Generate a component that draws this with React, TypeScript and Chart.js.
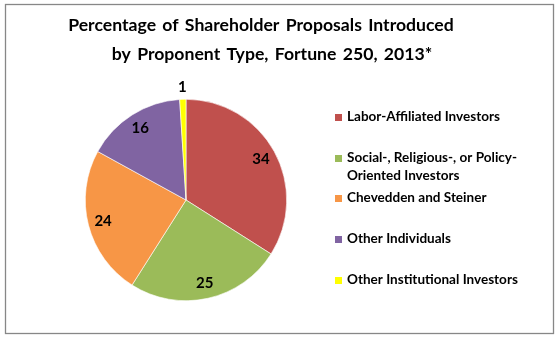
import React, { useEffect, useRef } from "react";
import { Chart, registerables } from "chart.js";

Chart.register(...registerables);

const TITLE_LINES = [
  "Percentage of Shareholder Proposals Introduced",
  "by Proponent Type, Fortune 250, 2013*",
];
const CATEGORIES = [
  "Labor-Affiliated Investors",
  "Social-, Religious-, or Policy-Oriented Investors",
  "Chevedden and Steiner",
  "Other Individuals",
  "Other Institutional Investors",
];
const VALUES = [34, 25, 24, 16, 1];
const COLORS = ["#C0504D", "#9BBB59", "#F79646", "#8064A2", "#FFFF00"];

const FAMILY = "Lato, 'Open Sans', sans-serif";

function fitSize(ctx: CanvasRenderingContext2D, text: string, target: number) {
  ctx.font = `bold 20px ${FAMILY}`;
  const w = ctx.measureText(text).width;
  return (20 * target) / w;
}

function wrap(ctx: CanvasRenderingContext2D, text: string, maxWidth: number) {
  const pieces: { t: string; sp: boolean }[] = [];
  text.split(" ").forEach((word) => {
    const parts = word.split(/(?<=-)(?=[A-Za-z])/);
    parts.forEach((p, i) => pieces.push({ t: p, sp: i === parts.length - 1 }));
  });
  const lines: string[] = [];
  let cur = "";
  let prevSp = false;
  pieces.forEach((p) => {
    const cand = cur === "" ? p.t : cur + (prevSp ? " " : "") + p.t;
    if (cur !== "" && ctx.measureText(cand).width > maxWidth) {
      lines.push(cur);
      cur = p.t;
    } else {
      cur = cand;
    }
    prevSp = p.sp;
  });
  if (cur) lines.push(cur);
  return lines;
}

const decorPlugin = {
  id: "decor",
  afterDraw(chart: any) {
    const ctx: any = chart.ctx;
    ctx.save();
    // frame
    ctx.strokeStyle = "#878787";
    ctx.lineWidth = 1.3;
    ctx.strokeRect(5.5, 4.5, 548, 329);

    // title
    const tSize = fitSize(ctx, TITLE_LINES[0], 378);
    ctx.font = `bold ${tSize}px ${FAMILY}`;
    ctx.wordSpacing = "2px";
    ctx.fillStyle = "#000";
    ctx.textAlign = "center";
    ctx.textBaseline = "alphabetic";
    ctx.fillText(TITLE_LINES[0], 261, 31);
    ctx.fillText(TITLE_LINES[1], 272, 60);
    ctx.wordSpacing = "0px";

    // legend
    const lSize = fitSize(ctx, CATEGORIES[0], 153);
    ctx.font = `bold ${lSize}px ${FAMILY}`;
    ctx.textAlign = "left";
    const baselines = [121, 162, 202, 243, 284];
    CATEGORIES.forEach((c, i) => {
      const b = baselines[i];
      ctx.fillStyle = COLORS[i];
      ctx.fillRect(335, b - 7, 7, 7);
      ctx.fillStyle = "#000";
      const lines = wrap(ctx, c, 190);
      lines.forEach((ln: string, j: number) => ctx.fillText(ln, 347, b + j * 17.5));
    });
    ctx.restore();
  },
};

const labelPlugin = {
  id: "sliceLabels",
  afterDatasetsDraw(chart: any) {
    const ctx: CanvasRenderingContext2D = chart.ctx;
    const meta = chart.getDatasetMeta(0);
    const data = chart.data.datasets[0].data as number[];
    const total = data.reduce((a, b) => a + b, 0);
    ctx.save();
    ctx.font = `bold 15px ${FAMILY}`;
    ctx.fillStyle = "#000";
    ctx.textAlign = "center";
    ctx.textBaseline = "middle";
    meta.data.forEach((arc: any, i: number) => {
      const { x, y, startAngle, endAngle, outerRadius } = arc.getProps(
        ["x", "y", "startAngle", "endAngle", "outerRadius"],
        true
      );
      const mid = (startAngle + endAngle) / 2;
      const share = data[i] / total;
      const r = share < 0.03 ? outerRadius + 12 : outerRadius * 0.85;
      ctx.fillText(String(data[i]), x + Math.cos(mid) * r, y + Math.sin(mid) * r);
    });
    ctx.restore();
  },
};

export default function App() {
  const ref = useRef<HTMLCanvasElement>(null);
  useEffect(() => {
    document.body.style.margin = "0";
    const chart = new Chart(ref.current!, {
      type: "pie",
      data: {
        labels: CATEGORIES,
        datasets: [
          {
            data: VALUES,
            backgroundColor: COLORS,
            borderColor: "#ffffff",
            borderWidth: 0.6,
          },
        ],
      },
      options: {
        responsive: false,
        animation: false,
        layout: { padding: { left: 85, right: 273, top: 99, bottom: 39 } },
        plugins: {
          legend: { display: false },
          title: { display: false },
          tooltip: { enabled: false },
        },
      },
      plugins: [decorPlugin, labelPlugin],
    });
    return () => chart.destroy();
  }, []);
  return (
    <div style={{ width: 560, height: 340, background: "#fff" }}>
      <canvas ref={ref} width={560} height={340} />
    </div>
  );
}
